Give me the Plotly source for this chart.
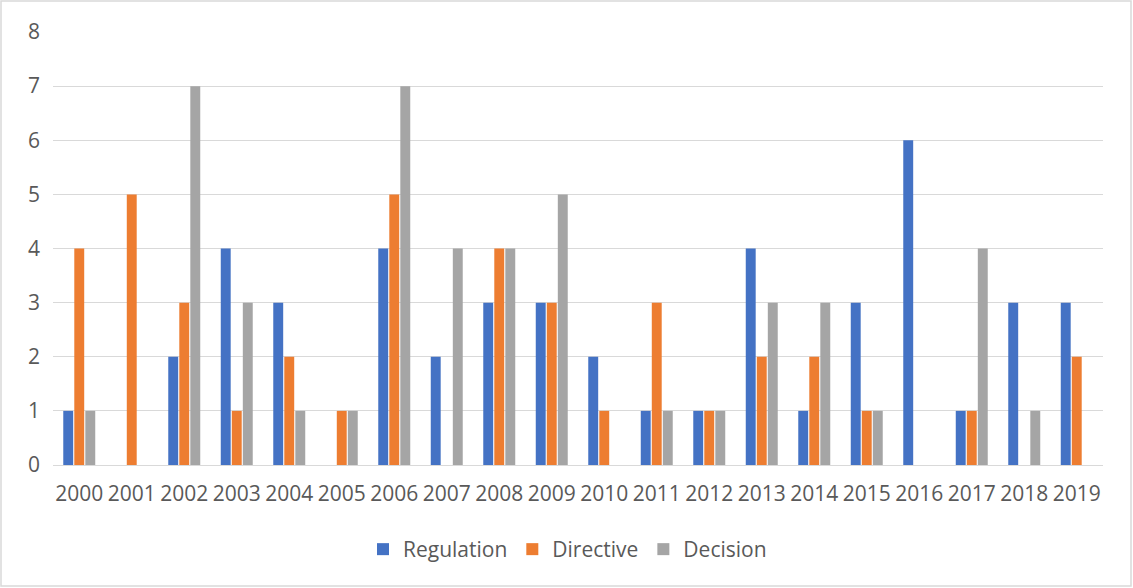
import plotly.graph_objects as go

years = [str(y) for y in range(2000, 2020)]
regulation = [1, 0, 2, 4, 3, 0, 4, 2, 3, 3, 2, 1, 1, 4, 1, 3, 6, 1, 3, 3]
directive = [4, 5, 3, 1, 2, 1, 5, 0, 4, 3, 1, 3, 1, 2, 2, 1, 0, 1, 0, 2]
decision = [1, 0, 7, 3, 1, 1, 7, 4, 4, 5, 0, 1, 1, 3, 3, 1, 0, 4, 1, 0]

series = [("Regulation", regulation, "#4472C4"),
          ("Directive", directive, "#ED7D31"),
          ("Decision", decision, "#A5A5A5")]

fig = go.Figure()
for name, vals, col in series:
    fig.add_trace(go.Bar(x=years, y=vals, name=name, marker=dict(color=col, line=dict(width=0))))

L, R, T, B = 53, 30, 32, 123
PW, PH = 1133 - L - R, 588 - T - B

fig.update_layout(
    width=1133, height=588,
    barmode="group", bargap=0.37, bargroupgap=0.1,
    plot_bgcolor="white", paper_bgcolor="white",
    margin=dict(l=L, r=R, t=T, b=B, autoexpand=False),
    font=dict(family="Open Sans", size=21, color="#595959"),
    xaxis=dict(showgrid=False, showline=True, linecolor="#D9D9D9", linewidth=1,
               ticks="", tickfont=dict(size=21), tickangle=0, ticklabelstandoff=10),
    yaxis=dict(range=[0, 8], dtick=1, showgrid=True, gridcolor="#D9D9D9", gridwidth=1,
               zeroline=False, ticks="", tickfont=dict(size=21), ticklabelstandoff=12),
    legend=dict(orientation="h", x=0.49, xanchor="center", y=-64 / PH, yanchor="top",
                font=dict(size=21), bgcolor="rgba(0,0,0,0)", itemwidth=30,
                tracegroupgap=0),
)
fig.add_shape(type="rect", xref="paper", yref="paper",
              x0=-(L - 1) / PW, x1=1 + (R - 2) / PW, y0=-(B - 2) / PH, y1=1 + (T - 1) / PH,
              line=dict(color="#D9D9D9", width=1.5))

fig.write_html("out.html")
